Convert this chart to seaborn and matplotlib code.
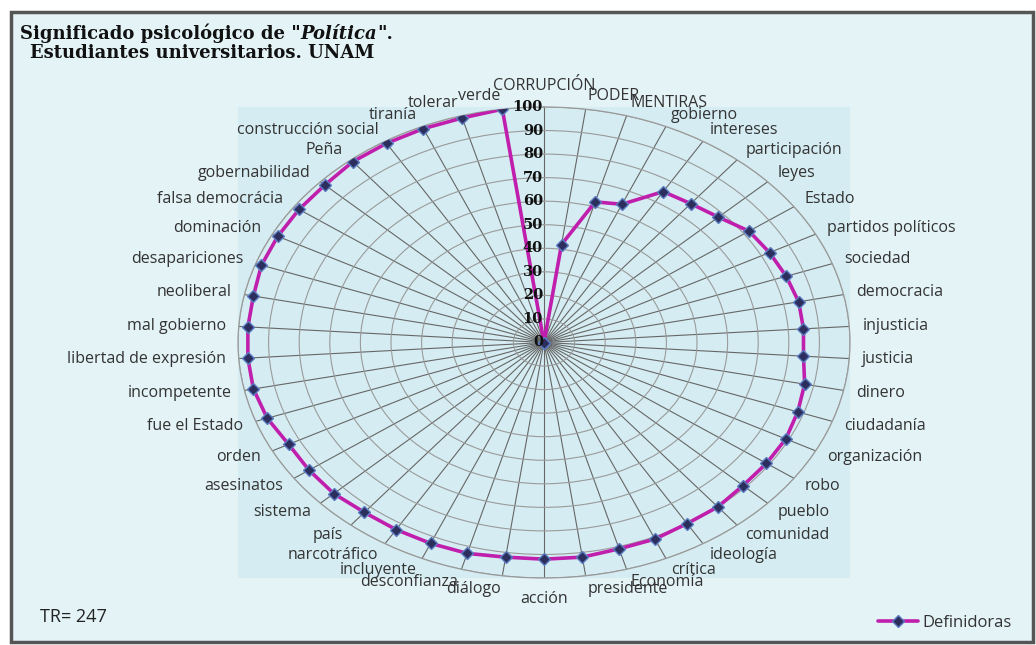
import numpy as np
import pandas as pd
import matplotlib
matplotlib.use("Agg")
import matplotlib.pyplot as plt
import seaborn as sns
from matplotlib.patches import Rectangle
from matplotlib.lines import Line2D

# ---------------- data ----------------
categories = [
    "CORRUPCIÓN", "PODER", "MENTIRAS", "gobierno", "intereses", "participación",
    "leyes", "Estado", "partidos políticos", "sociedad", "democracia", "injusticia",
    "justicia", "dinero", "ciudadanía", "organización", "robo", "pueblo",
    "comunidad", "ideología", "crítica", "Economía", "presidente", "acción",
    "diálogo", "desconfianza", "incluyente", "narcotráfico", "país", "sistema",
    "asesinatos", "orden", "fue el Estado", "incompetente", "libertad de expresión",
    "mal gobierno", "neoliberal", "desapariciones", "dominación", "falsa democrácia",
    "gobernabilidad", "Peña", "construcción social", "tiranía", "tolerar", "verde",
]
values = [
    0, 42, 62, 64, 75, 76,
    78, 82, 83, 84, 85, 85,
    85, 87, 88, 89, 89, 89,
    90, 90, 91, 91, 92, 92,
    92, 93, 93, 93, 93, 94,
    94, 94, 96, 97, 97,
    97, 97, 98, 98, 98,
    98, 99, 99, 99, 99, 100,
]
radial_ticks = [0, 10, 20, 30, 40, 50, 60, 70, 80, 90, 100]
series_name = "Definidoras"
title_a = 'Significado psicológico de "'
title_b = "Política"
title_c = '".'
title_line2 = "Estudiantes universitarios. UNAM"
note = "TR= 247"

# ---------------- style ----------------
sns.set_theme(style="white")
plt.rcParams["font.family"] = ["Open Sans", "DejaVu Sans"]

W, H = 1036, 645
fig = plt.figure(figsize=(W / 100, H / 100), dpi=100, facecolor="white")

def fx(px):
    return px / W

def fy(py):
    return 1 - py / H

frame = Rectangle((fx(11), fy(642)), fx(1033) - fx(11), fy(12) - fy(642),
                  transform=fig.transFigure, facecolor="#e3f3f6",
                  edgecolor="#555555", lw=2.5, zorder=-2)
fig.patches.append(frame)
inner = Rectangle((fx(238), fy(578)), fx(850) - fx(238), fy(107) - fy(578),
                  transform=fig.transFigure, facecolor="#d5edf2",
                  edgecolor="none", zorder=-1)
fig.patches.append(inner)

ax = fig.add_axes([fx(238), fy(578), fx(850) - fx(238), fy(107) - fy(578)],
                  projection="polar")
ax.set_aspect("auto")
ax.set_facecolor("none")
ax.set_theta_zero_location("N")
ax.set_theta_direction(-1)

n = len(categories)
theta = 2 * np.pi * np.arange(n) / n

df = pd.DataFrame({
    "theta": np.append(theta, theta[0]),
    "value": values + [values[0]],
})

line_color = "#c01eac"
sns.lineplot(data=df, x="theta", y="value", ax=ax, sort=False, estimator=None,
             color=line_color, lw=2.6, marker="D", markersize=6,
             markerfacecolor="#2c2e5e", markeredgecolor="#5b7cc0",
             markeredgewidth=1.0, zorder=5)
ax.set_xlabel("")
ax.set_ylabel("")

ax.set_ylim(0, 100)
ax.set_xticks(theta)
ax.set_xticklabels([])
ax.set_yticks(radial_ticks)
ax.set_yticklabels([])
ax.xaxis.grid(True, color="#666666", lw=0.8)
ax.yaxis.grid(True, color="#9a9a9a", lw=0.8)
ax.spines["polar"].set_color("#9a9a9a")
ax.spines["polar"].set_linewidth(0.9)

# radial tick labels
for r in radial_ticks:
    ax.annotate(str(r), xy=(0, r), xytext=(-1, 0), textcoords="offset pixels",
                ha="right", va="center", fontsize=10.5, fontweight="bold",
                family="DejaVu Serif", color="#111111", zorder=6,
                annotation_clip=False)

# category labels
off = 13
for t, lab in zip(theta, categories):
    s, c = np.sin(t), np.cos(t)
    if abs(s) < 0.02:
        ha = "center"
        va = "bottom" if c > 0 else "top"
        dx, dy = 0, off * np.sign(c)
    else:
        ha = "left" if s > 0 else "right"
        va = "center"
        dx, dy = off * s, off * c
    ax.annotate(lab, xy=(t, 100), xytext=(dx, dy), textcoords="offset pixels",
                ha=ha, va=va, fontsize=11.5, color="#333333",
                annotation_clip=False)

# title
tkw = dict(family="DejaVu Serif", weight="bold", fontsize=13, color="#111111")
t1 = fig.text(fx(20), fy(33), title_a, va="center", ha="left", **tkw)
t2 = fig.add_artist(matplotlib.text.Annotation(
    title_b, xy=(1, 0), xycoords=t1, va="bottom", ha="left",
    style="italic", **tkw))
t3 = fig.add_artist(matplotlib.text.Annotation(
    title_c, xy=(1, 0), xycoords=t2, va="bottom", ha="left", **tkw))
fig.text(fx(30), fy(53), title_line2, va="center", ha="left", **tkw)

fig.text(fx(40), fy(617), note, fontsize=13, color="#222222", va="center",
         ha="left")

handle = Line2D([], [], color=line_color, lw=2.6, marker="D", markersize=6,
                markerfacecolor="#2c2e5e", markeredgecolor="#5b7cc0",
                markeredgewidth=1.0)
fig.legend(handles=[handle], labels=[series_name], loc="center left",
           bbox_to_anchor=(fx(878), fy(623)), frameon=False, fontsize=12,
           handlelength=2.4, handletextpad=0.25, borderpad=0, borderaxespad=0,
           labelcolor="#333333")

fig.savefig("out.png", dpi=100, facecolor="white")
